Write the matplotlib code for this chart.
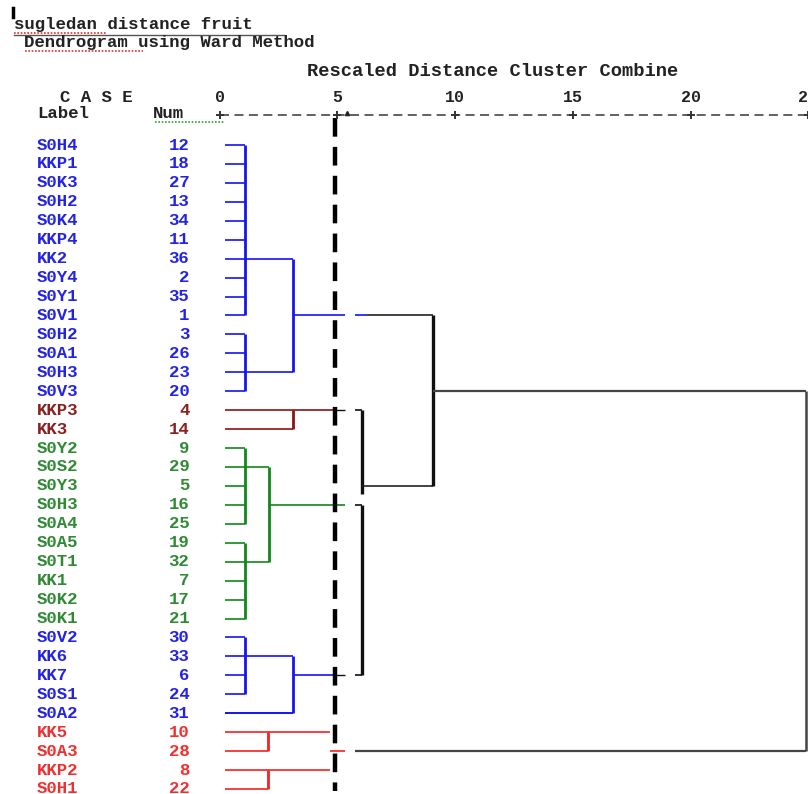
import matplotlib.pyplot as plt

# cases in dendrogram order (top to bottom)
labels = ["S0H4", "KKP1", "S0K3", "S0H2", "S0K4", "KKP4", "KK2", "S0Y4", "S0Y1", "S0V1",
          "S0H2", "S0A1", "S0H3", "S0V3", "KKP3", "KK3", "S0Y2", "S0S2", "S0Y3", "S0H3",
          "S0A4", "S0A5", "S0T1", "KK1", "S0K2", "S0K1", "S0V2", "KK6", "KK7", "S0S1",
          "S0A2", "KK5", "S0A3", "KKP2", "S0H1"]
case_num = [12, 18, 27, 13, 34, 11, 36, 2, 35, 1, 3, 26, 23, 20, 4, 14, 9, 29, 5, 16,
            25, 19, 32, 7, 17, 21, 30, 33, 6, 24, 31, 10, 28, 8, 22]
group = ["b"] * 14 + ["d"] * 2 + ["g"] * 10 + ["b"] * 5 + ["r"] * 4

# first level groups: (first row, last row, join distance, anchor row)
first_join = [(0, 9, 1.1, 6), (10, 13, 1.1, 12), (14, 15, 3.1, 14), (16, 20, 1.1, 17),
              (21, 25, 1.1, 22), (26, 29, 1.1, 27), (31, 32, 2.05, 31), (33, 34, 2.05, 33)]
# second level: (upper anchor, from, lower anchor, from, join distance, new anchor)
second_join = [(6, 1.1, 12, 1.1, 3.1, 9), (17, 1.1, 22, 1.1, 2.1, 19), (27, 1.1, 30, 0.25, 3.1, 28)]
# black (uncoloured) part of the tree
upper_bracket = (14, 18.45, 6.05)
lower_bracket = (19, 28, 6.05)
mid_join = (9, 18, 9.05, 13)
top_join = (13, 32, 24.9)

scale_ticks = [0, 5, 10, 15, 20, 25]
cutoff = 4.92

line_col = {"b": "#1414f2", "d": "#8a1414", "g": "#11871a", "r": "#f52020"}
text_col = {"b": "#2323e6", "d": "#8b2020", "g": "#2f8a34", "r": "#f03030"}
black = "#111111"
mono = "Liberation Mono"

W, H = 808, 794
fig = plt.figure(figsize=(W / 100, H / 100), dpi=100)
ax = fig.add_axes([0, 0, 1, 1])
px_x0, px_unit = 219.5, 23.55
row_y0, row_step = 145, 18.94
ax.set_xlim(-px_x0 / px_unit, (W - px_x0) / px_unit)
ax.set_ylim((H - row_y0) / row_step, -row_y0 / row_step)
ax.axis("off")


def hl(row, x0, x1, c, lw=1.2):
    ax.plot([x0, x1], [row, row], color=c, lw=lw, solid_capstyle="butt")


def vl(x, r0, r1, c, lw=2.0):
    ax.plot([x, x], [r0, r1], color=c, lw=lw, solid_capstyle="butt")


def ftext(px, py, s, **kw):
    fig.text(px / W, 1 - py / H, s, family=mono, weight="bold", va="center", **kw)


# leaves and first joins
leaf_start = 0.25
for r0, r1, h, anchor in first_join:
    c = line_col[group[r0]]
    for r in range(r0, r1 + 1):
        hl(r, leaf_start, h, c)
    vl(h, r0, r1, c)
hl(30, leaf_start, 3.1, line_col["b"])

# second joins
for a, fa, b, fb, h, anchor in second_join:
    c = line_col[group[a]]
    hl(a, fa, h, c)
    hl(b, fb, h, c)
    vl(h, a, b, c)

# stubs running to the cut
cut_end, resume = 5.35, 5.75
hl(9, 3.1, cut_end, line_col["b"])
hl(9, resume, 6.27, line_col["b"])
hl(14, 3.1, 4.9, line_col["d"])
hl(14, 4.9, cut_end, black, 1.0)
hl(19, 2.1, cut_end, line_col["g"])
hl(28, 3.1, 4.9, line_col["b"])
hl(28, 4.9, cut_end, black, 1.0)
hl(31, 2.05, 4.7, line_col["r"])
hl(33, 2.05, 4.7, line_col["r"])
hl(32, 4.7, cut_end, line_col["r"])

# black part
r0, r1, h = upper_bracket
hl(r0, resume, h, black, 1.2)
vl(h, r0, r1, black, 2.4)
r0, r1, h = lower_bracket
hl(r0, resume, h, black, 1.2)
hl(r1, resume, h, black, 1.2)
vl(h, r0, r1, black, 2.4)
r0, r1, h, anchor = mid_join
hl(r0, 6.27, h, "#222222", 1.2)
hl(r1, upper_bracket[2], h, "#222222", 1.2)
vl(h, r0, r1, black, 2.4)
r0, r1, h = top_join
hl(r0, mid_join[2], h, "#444444", 1.6)
hl(r1, resume, h, "#444444", 1.6)
vl(h, r0, r1, "#444444", 1.8)

# cutoff line
ax.plot([cutoff, cutoff], [(118 - row_y0) / row_step, (791 - row_y0) / row_step],
        color="black", lw=3.2, linestyle=(0, (4.2, 2.3)))

# scale header
scale_row = (115 - row_y0) / row_step
ax.plot([scale_ticks[0], scale_ticks[-1]], [scale_row, scale_row], color="#555555",
        lw=1.3, linestyle=(0, (5, 3)))
ax.plot(scale_ticks, [scale_row] * len(scale_ticks), "+", color="#333333", ms=6, mew=1.4)
ax.plot([cutoff + 0.5], [scale_row - 0.12], "^", color="#222222", ms=3)
for t in scale_ticks:
    ax.text(t, (97 - row_y0) / row_step, str(t), family=mono, weight="bold",
            fontsize=12, ha="center", va="center", color="#222222")

# case labels and numbers
for i, (lab, n) in enumerate(zip(labels, case_num)):
    c = text_col[group[i]]
    ax.text(-7.75, i, lab, family=mono, weight="bold", fontsize=12.5,
            ha="left", va="center", color=c)
    ax.text(-1.28, i, str(n), family=mono, weight="bold", fontsize=12.5,
            ha="right", va="center", color=c)

# titles and column headers
ftext(14, 25, "sugledan distance fruit", fontsize=12.5, color="#222222")
ftext(24, 43, "Dendrogram using Ward Method", fontsize=12.5, color="#222222")
ftext(307, 71, "Rescaled Distance Cluster Combine", fontsize=13.5, color="#222222")
ftext(60, 97, "C A S E", fontsize=12.5, color="#222222")
ftext(37, 113, "Label", fontsize=12.5, color="#222222")
ftext(153, 113, "Num", fontsize=12.5, color="#222222")

# underline and spell-check marks
fig.add_artist(plt.Line2D([14 / W, 284 / W], [1 - 34.5 / H] * 2, color="#555555", lw=1.0))
fig.add_artist(plt.Line2D([14 / W, 107 / W], [1 - 33 / H] * 2, color="#e03030",
                          lw=1.2, linestyle=(0, (1, 1))))
fig.add_artist(plt.Line2D([25 / W, 143 / W], [1 - 51 / H] * 2, color="#e03030",
                          lw=1.2, linestyle=(0, (1, 1))))
fig.add_artist(plt.Line2D([155 / W, 225 / W], [1 - 122 / H] * 2, color="#30a030",
                          lw=1.2, linestyle=(0, (1, 1))))
fig.add_artist(plt.Line2D([13 / W, 13 / W], [1 - 8 / H, 1 - 17 / H], color="black", lw=2.5))

fig.savefig("out.png", dpi=100)
